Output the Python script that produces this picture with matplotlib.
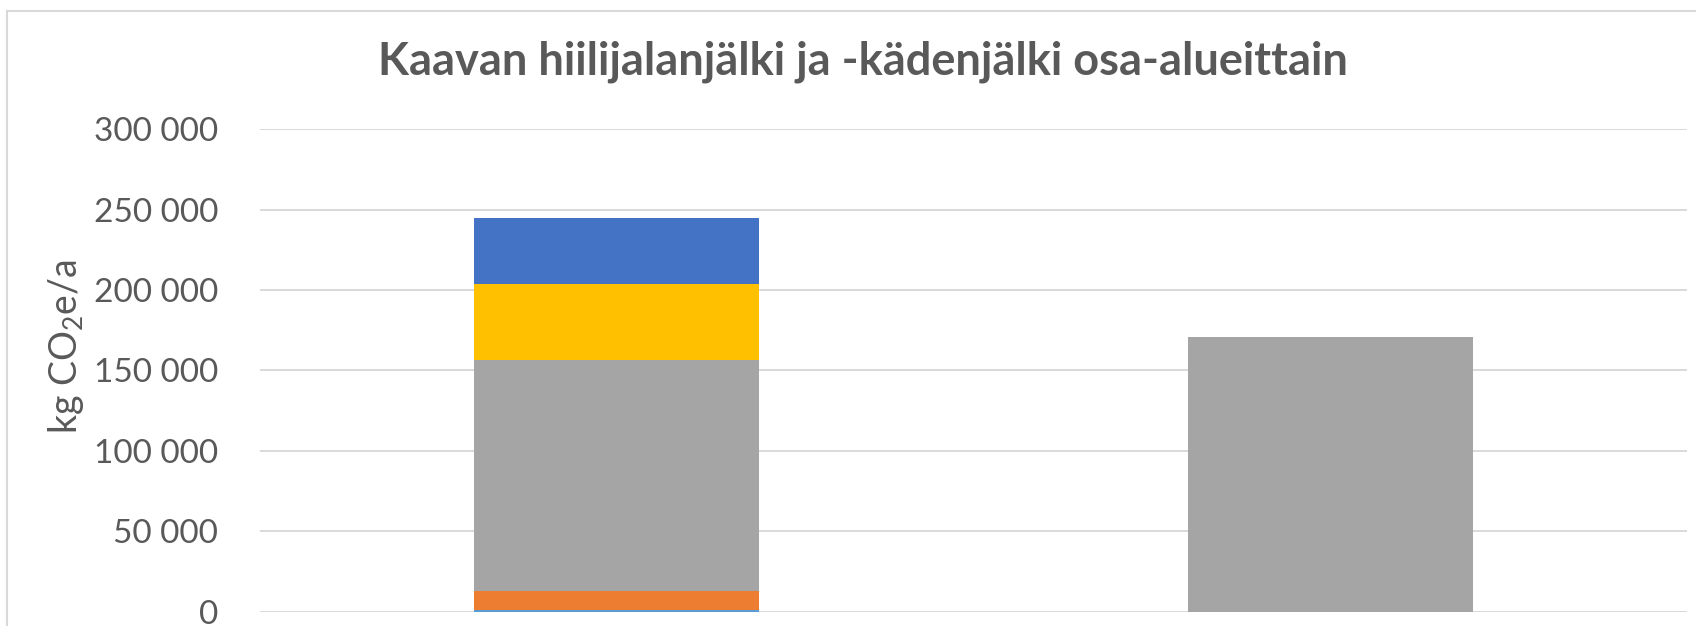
import numpy as np
import matplotlib.pyplot as plt
from matplotlib.lines import Line2D

plt.rcParams['font.family'] = ['Lato', 'DejaVu Sans']
plt.rcParams['mathtext.fontset'] = 'custom'
plt.rcParams['mathtext.rm'] = 'Lato'

# --- data ---
categories = ['Osa-alue 1', 'Osa-alue 2']
series_names = ['Sarja 1', 'Sarja 2', 'Sarja 3', 'Sarja 4', 'Sarja 5']
s1 = [1200, 0]
s2 = [11300, 0]
s3 = [143800, 171000]
s4 = [47300, 0]
s5 = [41000, 0]
series = [s1, s2, s3, s4, s5]
colors = ['#5B9BD5', '#ED7D31', '#A5A5A5', '#FFC000', '#4472C4']

yticks = [0, 50000, 100000, 150000, 200000, 250000, 300000]
ytick_labels = ['0', '50 000', '100 000', '150 000', '200 000', '250 000', '300 000']

W, H = 1696, 626
fig = plt.figure(figsize=(W / 100, H / 100), dpi=100)
ax = fig.add_axes([260 / W, (H - 611.5) / H, (1687 - 260) / W, (611.5 - 129.3) / H])

x = np.arange(len(categories))
bottom = np.zeros(len(categories))
for name, vals, c in zip(series_names, series, colors):
    vals = np.array(vals, dtype=float)
    ax.bar(x, vals, width=0.4, bottom=bottom, color=c, label=name, zorder=3)
    bottom += vals

ax.set_xlim(-0.5, 1.5)
ax.set_ylim(0, 300000)
ax.set_yticks(yticks)
ax.set_yticklabels(ytick_labels, fontsize=24, color='#595959')
ax.set_xticks([])
ax.tick_params(axis='y', length=0, pad=30)
ax.grid(axis='y', color='#D9D9D9', linewidth=1.4, zorder=0)
for s in ax.spines.values():
    s.set_visible(False)

ax.set_ylabel(r'kg CO$_\mathrm{2}$e/a', fontsize=27, color='#595959')
ax.yaxis.set_label_coords(-0.122, 0.55)

fig.text(863 / W, 1 - 62 / H, 'Kaavan hiilijalanjälki ja -kädenjälki osa-alueittain',
         ha='center', va='center', fontsize=32.5, fontweight='bold', color='#595959')

# chart area border (cropped on right and bottom)
fig.add_artist(Line2D([7 / W, 1], [1 - 11 / H, 1 - 11 / H], color='#D9D9D9', linewidth=1.5))
fig.add_artist(Line2D([7 / W, 7 / W], [0, 1 - 11 / H], color='#D9D9D9', linewidth=1.5))

fig.savefig('out.png', dpi=100)
